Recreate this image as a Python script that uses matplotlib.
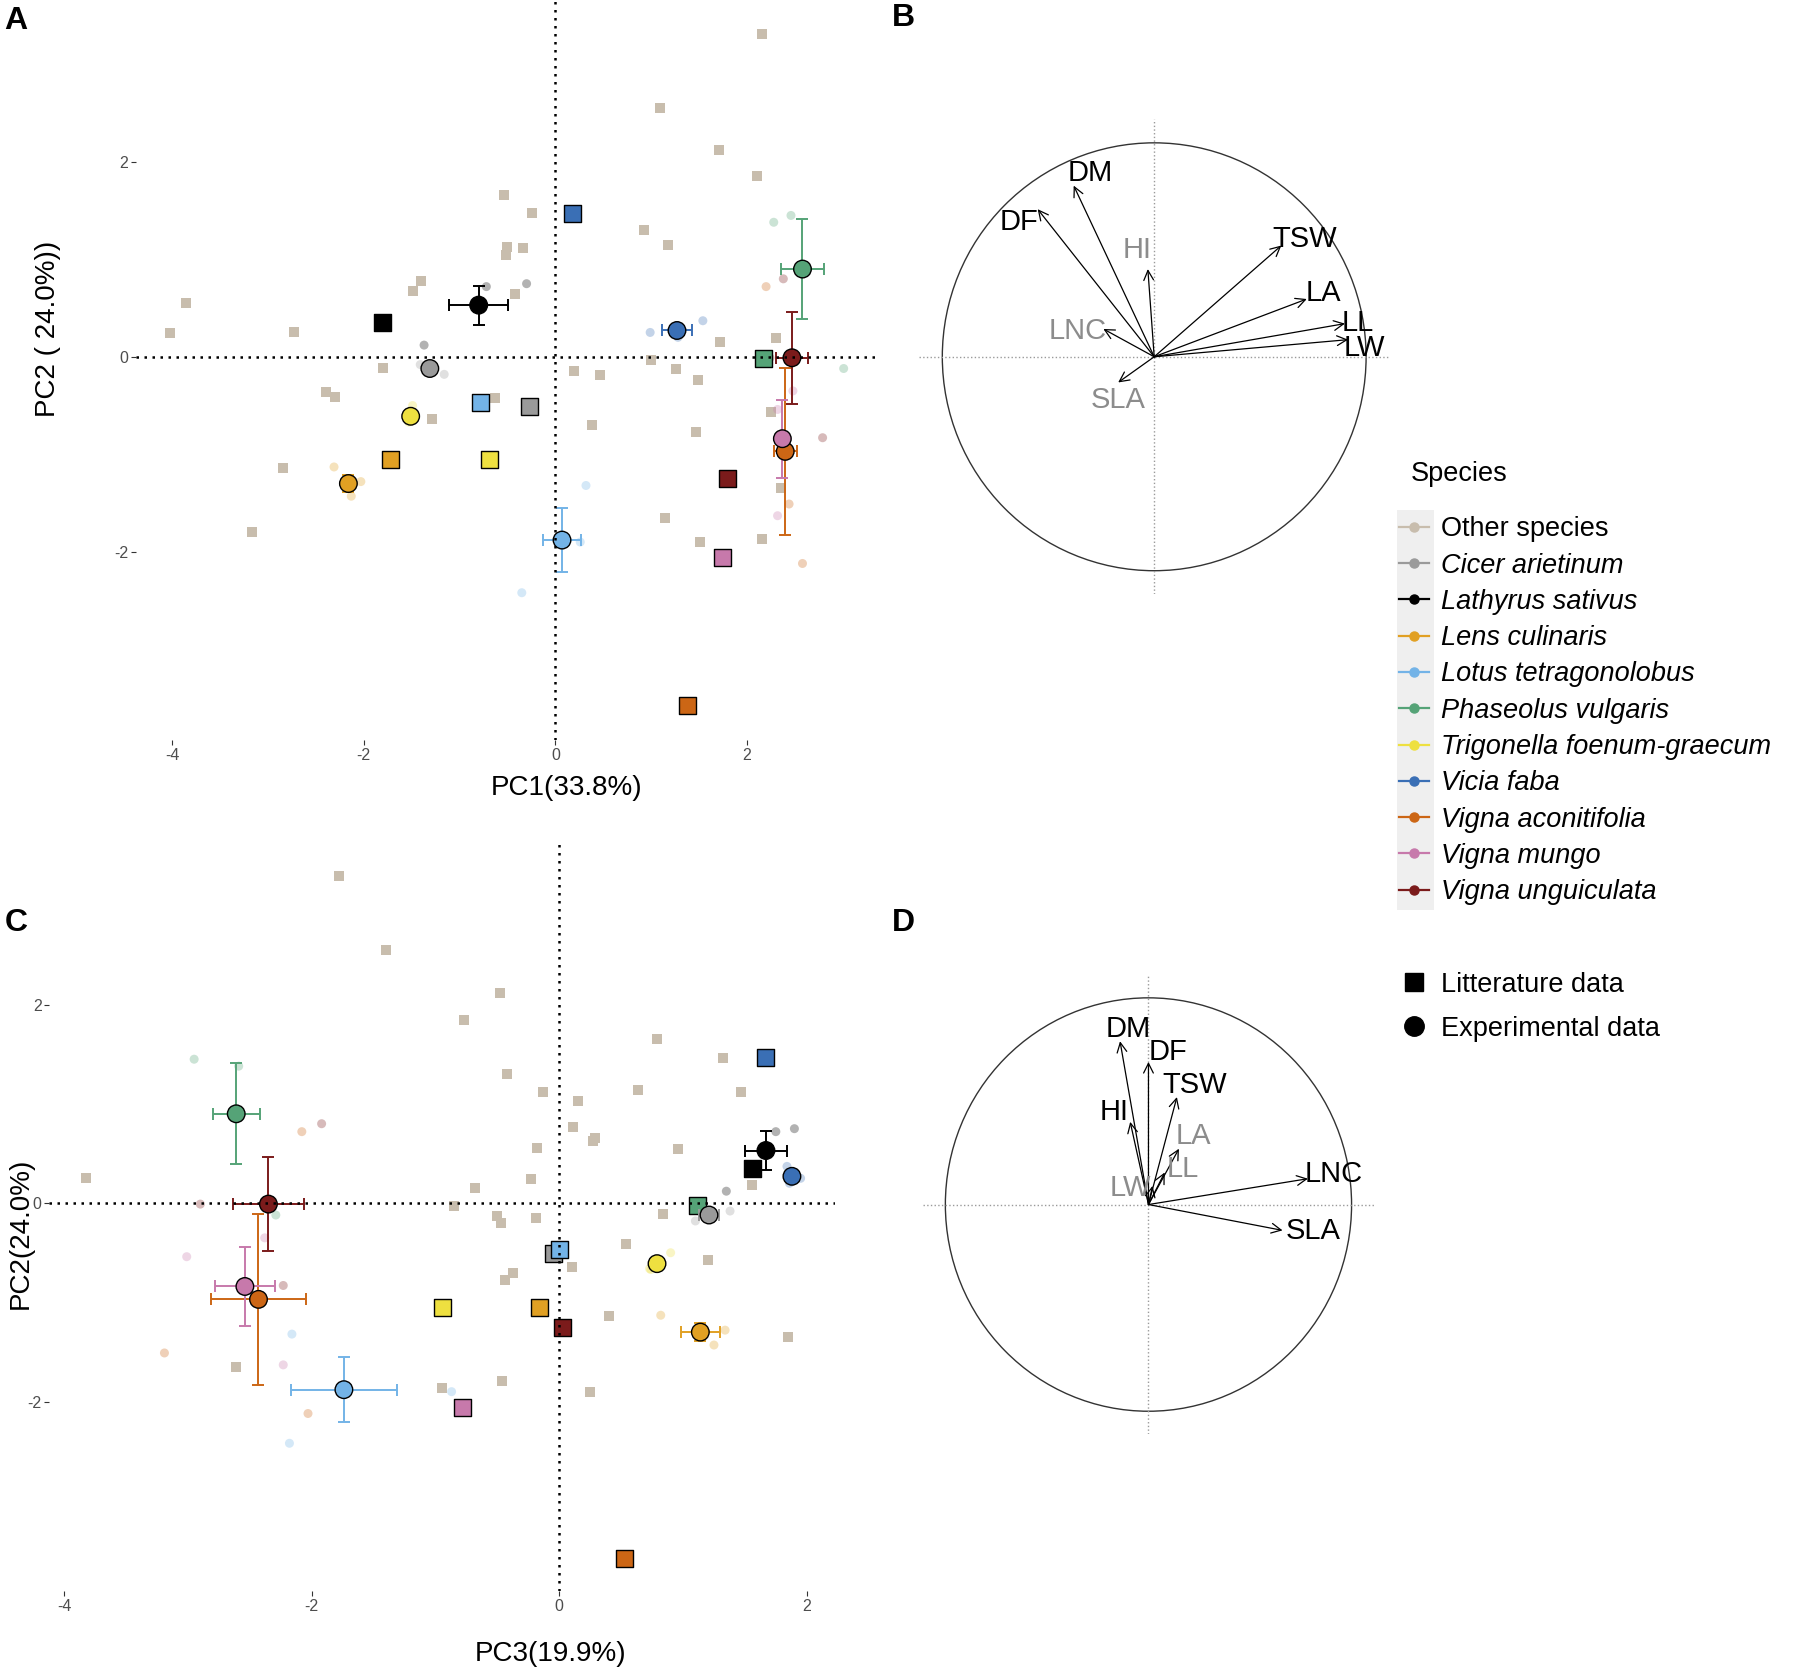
import matplotlib.pyplot as plt
import numpy as np
from matplotlib.lines import Line2D
from matplotlib.patches import Circle, Rectangle

plt.rcParams['font.family'] = ['Liberation Sans', 'DejaVu Sans']
plt.rcParams['axes.unicode_minus'] = False

# ---- data -------------------------------------------------------------
species = ["Other species", "Cicer arietinum", "Lathyrus sativus", "Lens culinaris",
           "Lotus tetragonolobus", "Phaseolus vulgaris", "Trigonella foenum-graecum",
           "Vicia faba", "Vigna aconitifolia", "Vigna mungo", "Vigna unguiculata"]
colors = ["#C8BDAD", "#9A9A9A", "#000000", "#E1A023", "#73B3E7", "#55A377",
          "#EEE040", "#3A6FB5", "#CC6615", "#C779AB", "#7B1B1B"]

# literature data (one square per species, Cicer .. V. unguiculata)
lit_pc1 = [-0.27, -1.80, -1.72, -0.78, 2.17, -0.69, 0.18, 1.38, 1.75, 1.80]
lit_pc2 = [-0.51, 0.35, -1.05, -0.47, -0.02, -1.05, 1.47, -3.58, -2.06, -1.25]
lit_pc3 = [-0.05, 1.56, -0.16, 0.00, 1.12, -0.94, 1.67, 0.53, -0.78, 0.03]

# experimental means and errors
mean_pc1 = [-1.31, -0.80, -2.16, 0.07, 2.58, -1.51, 1.27, 2.40, 2.37, 2.47]
mean_pc2 = [-0.12, 0.53, -1.30, -1.88, 0.90, -0.61, 0.27, -0.97, -0.84, -0.01]
mean_pc3 = [1.21, 1.67, 1.14, -1.74, -2.61, 0.79, 1.88, -2.43, -2.54, -2.35]
err_pc1 = [0.05, 0.31, 0.02, 0.20, 0.22, 0.02, 0.16, 0.12, 0.03, 0.17]
err_pc2 = [0.03, 0.20, 0.09, 0.33, 0.51, 0.02, 0.03, 0.86, 0.40, 0.47]
err_pc3 = [0.08, 0.17, 0.16, 0.43, 0.19, 0.02, 0.03, 0.38, 0.24, 0.29]

# experimental replicates (species index into species list)
ind_sp = [1, 1, 1, 2, 2, 2, 3, 3, 3, 4, 4, 4, 5, 5, 5, 6, 6, 6, 7, 7, 7, 8, 8, 8, 9, 9, 9, 10, 10, 10]
ind_pc1 = [-1.16, -1.41, -1.36, -0.72, -0.30, -1.37, -2.31, -2.03, -2.13, 0.32, -0.35, 0.26,
           2.28, 2.46, 3.01, -1.49, -1.53, -1.51, 0.99, 1.54, 1.28, 2.20, 2.44, 2.58,
           2.48, 2.32, 2.32, 2.38, 2.79, 2.24]
ind_pc2 = [-0.18, -0.08, -0.10, 0.72, 0.75, 0.12, -1.13, -1.28, -1.43, -1.32, -2.42, -1.90,
           1.38, 1.45, -0.12, -0.50, -0.67, -0.66, 0.25, 0.37, 0.20, 0.72, -1.51, -2.12,
           -0.35, -0.54, -1.63, 0.80, -0.83, -0.01]
ind_pc3 = [1.10, 1.38, 1.15, 1.75, 1.90, 1.35, 0.82, 1.34, 1.25, -2.16, -2.18, -0.87,
           -2.59, -2.95, -2.29, 0.90, 0.74, 0.73, 1.95, 1.84, 1.86, -2.08, -3.19, -2.03,
           -2.38, -3.01, -2.23, -1.92, -2.23, -2.90]

# other species, PC1 x PC2 plane
oth_a_x = [2.16, 1.09, 1.71, 2.10, -0.54, -0.24, 0.93, 1.18, -0.50, -0.34, -0.52, -1.40, -1.49,
           -0.42, -3.86, -2.73, -4.02, 2.30, 1.72, 1.00, -1.80, 1.26, 0.20, 0.47, 1.49, -2.39,
           -2.30, -0.63, 2.25, -1.29, 0.38, 1.47, -2.84, 2.36, 1.14, -3.17, 2.16, 1.51]
oth_a_y = [3.31, 2.55, 2.12, 1.85, 1.66, 1.47, 1.30, 1.15, 1.13, 1.12, 1.04, 0.78, 0.67,
           0.64, 0.55, 0.25, 0.24, 0.19, 0.15, -0.03, -0.11, -0.13, -0.15, -0.19, -0.24, -0.36,
           -0.41, -0.42, -0.57, -0.64, -0.70, -0.77, -1.14, -1.35, -1.65, -1.80, -1.87, -1.90]
# other species, PC3 x PC2 plane
oth_c_x = [-1.78, -1.40, -0.48, -0.77, 0.79, 1.32, -0.42, 0.64, 1.47, -0.13, 0.15, 0.11, 0.29,
           0.27, -0.18, 0.96, -3.82, -0.23, 1.56, -0.68, -0.85, 0.84, -0.50, -0.19, -0.47, 0.54,
           1.20, 0.10, -0.37, -0.44, 0.40, 1.85, -2.61, -0.46, -0.95, 0.25]
oth_c_y = [3.30, 2.55, 2.12, 1.85, 1.65, 1.46, 1.30, 1.14, 1.12, 1.12, 1.03, 0.77, 0.66,
           0.63, 0.56, 0.55, 0.25, 0.24, 0.18, 0.15, -0.03, -0.11, -0.13, -0.15, -0.20, -0.41,
           -0.57, -0.64, -0.70, -0.77, -1.14, -1.35, -1.65, -1.79, -1.86, -1.90]

# variable loadings
var_names = ["DM", "DF", "HI", "TSW", "LA", "LL", "LW", "LNC", "SLA"]
b_x = [-0.38, -0.55, -0.03, 0.60, 0.72, 0.90, 0.915, -0.24, -0.17]
b_y = [0.80, 0.69, 0.41, 0.52, 0.27, 0.155, 0.08, 0.13, -0.12]
b_grey = [False, False, True, False, False, False, False, True, True]
d_x = [-0.14, 0.00, -0.09, 0.14, 0.15, 0.08, 0.02, 0.785, 0.66]
d_y = [0.79, 0.69, 0.40, 0.52, 0.27, 0.155, 0.09, 0.125, -0.125]
d_grey = [False, False, False, False, True, True, True, False, False]

# ---- layout helpers (reference frame of 1568 x 1454) -----------------
W, H = 1568.0, 1454.0


def box(x0, y0, x1, y1):
    return [x0 / W, 1 - y1 / H, (x1 - x0) / W, (y1 - y0) / H]


fig = plt.figure(figsize=(17.99, 16.68), dpi=100)


def score_panel(ax, lit_x, lit_y, mx, my, ex, ey, ix, iy, ox, oy, xlim, ylim):
    ax.scatter(ox, oy, marker="s", s=44, color=colors[0], linewidths=0, zorder=2)
    ax.scatter(ix, iy, marker="o", s=42, color=[colors[k] for k in ind_sp],
               alpha=0.3, linewidths=0, zorder=3)
    ax.scatter(lit_x, lit_y, marker="s", s=150, color=colors[1:], edgecolors="black",
               linewidths=1.0, zorder=4)
    for k in range(len(mx)):
        ax.errorbar(mx[k], my[k], xerr=ex[k], yerr=ey[k], fmt="none", ecolor=colors[k + 1],
                    elinewidth=1.4, capsize=4, capthick=1.4, zorder=5)
    ax.scatter(mx, my, marker="o", s=160, color=colors[1:], edgecolors="black",
               linewidths=1.0, zorder=6)
    ax.axhline(0, color="black", ls=(0, (1, 2.2)), lw=1.8, zorder=7)
    ax.axvline(0, color="black", ls=(0, (1, 2.2)), lw=1.8, zorder=7)
    ax.set_xlim(*xlim)
    ax.set_ylim(*ylim)
    ax.set_xticks([-4, -2, 0, 2])
    ax.set_yticks([-2, 0, 2])
    for s in ax.spines.values():
        s.set_visible(False)
    ax.tick_params(length=3.5, width=0.8, color="#333333", labelsize=11.5,
                   labelcolor="#4D4D4D", pad=2)


# panel A
ax_a = fig.add_axes(box(118.3, 0, 762.9, 645))
score_panel(ax_a, lit_pc1, lit_pc2, mean_pc1, mean_pc2, err_pc1, err_pc2,
            ind_pc1, ind_pc2, oth_a_x, oth_a_y, (-4.38, 3.34), (-3.93, 3.66))
ax_a.set_xlabel("PC1(33.8%)", fontsize=20)
ax_a.set_ylabel("PC2 ( 24.0%))", fontsize=20)
ax_a.xaxis.set_label_coords(0.583, -0.047)
ax_a.yaxis.set_label_coords(-0.101, 0.555)

# panel C
ax_c = fig.add_axes(box(43, 733, 728, 1387))
score_panel(ax_c, lit_pc3, lit_pc2, mean_pc3, mean_pc2, err_pc3, err_pc2,
            ind_pc3, ind_pc2, oth_c_x, oth_c_y, (-4.12, 2.23), (-3.91, 3.65))
ax_c.set_xlabel("PC3(19.9%)", fontsize=20)
ax_c.set_ylabel("PC2(24.0%)", fontsize=20)
ax_c.xaxis.set_label_coords(0.638, -0.066)
ax_c.yaxis.set_label_coords(-0.020, 0.477)


def circle_panel(ax, vx, vy, grey, lab_xy):
    ax.add_patch(Circle((0, 0), 1, fill=False, edgecolor="#333333", lw=1.0))
    ax.axhline(0, color="#9A9A9A", ls=":", lw=1.0)
    ax.axvline(0, color="#9A9A9A", ls=":", lw=1.0)
    for k in range(len(vx)):
        ax.annotate("", xy=(vx[k], vy[k]), xytext=(0, 0),
                    arrowprops=dict(arrowstyle="->,head_length=0.5,head_width=0.25",
                                    color="black", lw=0.9, shrinkA=0, shrinkB=0,
                                    mutation_scale=14))
        ax.text(lab_xy[k][0], lab_xy[k][1], var_names[k], ha="center", va="center",
                fontsize=21, color="#8C8C8C" if grey[k] else "black",
                family=["Liberation Sans Narrow", "Liberation Sans", "DejaVu Sans"])
    ax.set_xlim(-1.11, 1.11)
    ax.set_ylim(-1.11, 1.11)
    ax.axis("off")


# label anchor points for the variable names
b_labels = [(-0.30, 0.86), (-0.64, 0.63), (-0.08, 0.50), (0.71, 0.55), (0.80, 0.30),
            (0.96, 0.16), (0.99, 0.04), (-0.36, 0.12), (-0.17, -0.20)]
d_labels = [(-0.10, 0.85), (0.095, 0.74), (-0.17, 0.45), (0.23, 0.58), (0.22, 0.33),
            (0.17, 0.17), (-0.09, 0.08), (0.91, 0.15), (0.81, -0.13)]

ax_b = fig.add_axes(box(801, 104, 1211, 518))
circle_panel(ax_b, b_x, b_y, b_grey, b_labels)
ax_d = fig.add_axes(box(804.5, 850, 1197.5, 1250))
circle_panel(ax_d, d_x, d_y, d_grey, d_labels)

# panel letters
for letter, (px, py) in zip("ABCD", [(4, 18), (777, 16), (4, 805), (777, 805)]):
    fig.text(px / W, 1 - py / H, letter, fontsize=23, fontweight="bold",
             ha="left", va="center")

# species legend
fig.text(1230 / W, 1 - 413 / H, "Species", fontsize=19.5, ha="left", va="center")
fig.patches.append(Rectangle((1218 / W, 1 - 793 / H), 32 / W, 348 / H,
                             transform=fig.transFigure, facecolor="#EFEFEF",
                             edgecolor="none", zorder=0))
sp_handles = [Line2D([], [], color=c, lw=1.6, marker="o", markersize=6.5) for c in colors]
leg1 = fig.legend(sp_handles, species, loc="upper left",
                  bbox_to_anchor=(1219 / W, 1 - 450 / H), frameon=False, fontsize=19.5,
                  handlelength=1.12, handletextpad=0.45, labelspacing=0.38,
                  borderpad=0, borderaxespad=0)
for t in leg1.get_texts()[1:]:
    t.set_fontstyle("italic")

shape_handles = [Line2D([], [], ls="none", marker="s", color="black", markersize=13),
                 Line2D([], [], ls="none", marker="o", color="black", markersize=14)]
fig.legend(shape_handles, ["Litterature data", "Experimental data"], loc="upper left",
           bbox_to_anchor=(1219 / W, 1 - 847 / H), frameon=False, fontsize=19.5,
           handlelength=1.12, handletextpad=0.45, labelspacing=0.66,
           borderpad=0, borderaxespad=0)

fig.savefig("out.png", dpi=100)
